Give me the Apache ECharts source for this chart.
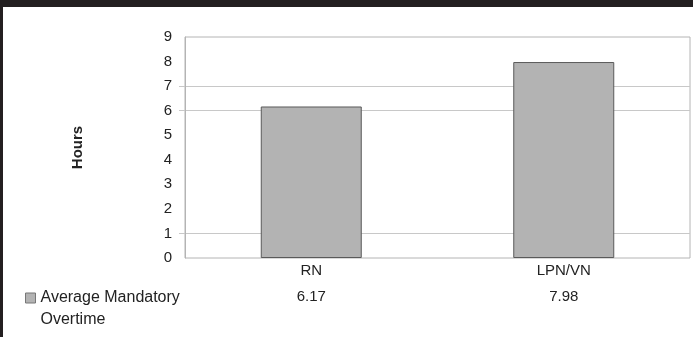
<!DOCTYPE html>
<html>
<head>
<meta charset="utf-8">
<script src="https://cdn.jsdelivr.net/npm/echarts@6/dist/echarts.min.js"></script>
<style>
  html, body { margin: 0; padding: 0; background: #fff; }
  #chart { width: 693px; height: 337px; }
</style>
</head>
<body>
<div id="chart"></div>
<script>
// Nurse categories along the x axis
const categories = ['RN', 'LPN/VN'];
// Average mandatory overtime, in hours
const overtimeHours = [6.17, 7.98];
// Series / legend label
const seriesName = 'Average Mandatory\nOvertime';
// Horizontal guide lines that are drawn on the value axis
const guideValues = [1, 6, 7];

const FONT = '"Liberation Sans", Arial, sans-serif';
const TEXT = '#222';
const LINE_H = 22;

const chart = echarts.init(document.getElementById('chart'), null, { renderer: 'canvas' });

chart.setOption({
  animation: false,
  backgroundColor: '#fff',
  textStyle: { fontFamily: FONT },
  graphic: [
    // dark frame along the top and left edges
    { type: 'rect', left: 0, top: 0, shape: { width: 693, height: 7 }, style: { fill: '#231f20' }, silent: true },
    { type: 'rect', left: 0, top: 0, shape: { width: 3, height: 337 }, style: { fill: '#231f20' }, silent: true }
  ],
  grid: {
    left: 185, right: 3, top: 37, bottom: 79,
    show: true, borderColor: '#b4b4b4', borderWidth: 1, backgroundColor: 'transparent'
  },
  legend: {
    left: 25,
    top: 265,
    padding: 0,
    itemWidth: 10,
    itemHeight: 10,
    itemGap: 4,
    icon: 'rect',
    // leading blank line keeps the swatch level with the first text line
    formatter: (name) => '\n' + name,
    textStyle: { fontFamily: FONT, fontSize: 16, color: TEXT, lineHeight: LINE_H },
    itemStyle: { color: '#b3b3b3', borderColor: '#777', borderWidth: 1 },
    data: [seriesName]
  },
  xAxis: [
    {
      type: 'category',
      data: categories,
      position: 'bottom',
      axisLine: { show: false },
      axisTick: { show: false },
      splitLine: { show: false },
      axisLabel: { fontFamily: FONT, fontSize: 15, color: TEXT, margin: 5 }
    },
    {
      // value row beneath the category names
      type: 'category',
      data: categories,
      position: 'bottom',
      offset: 26,
      axisLine: { show: false },
      axisTick: { show: false },
      splitLine: { show: false },
      axisLabel: {
        fontFamily: FONT, fontSize: 15, color: TEXT, margin: 5,
        formatter: (v, i) => overtimeHours[i].toFixed(2)
      }
    }
  ],
  yAxis: {
    type: 'value',
    min: 0,
    max: 9,
    interval: 1,
    name: 'Hours',
    nameLocation: 'middle',
    nameRotate: 90,
    nameGap: 100,
    nameTextStyle: { fontFamily: FONT, fontSize: 15, fontWeight: 'bold', color: TEXT },
    axisLine: { show: true, lineStyle: { color: '#b4b4b4', width: 1 } },
    axisTick: { show: true, length: 6, customValues: guideValues, lineStyle: { color: '#c8c8c8' } },
    splitLine: { show: true, lineStyle: { color: '#c8c8c8', width: 1 } },
    axisLabel: { fontFamily: FONT, fontSize: 15, color: TEXT, margin: 13 }
  },
  series: [
    {
      name: seriesName,
      type: 'bar',
      data: overtimeHours,
      barWidth: '40%',
      itemStyle: { color: '#b3b3b3', borderColor: '#5a5a5a', borderWidth: 1 },
      emphasis: { disabled: true }
    }
  ]
});
</script>
</body>
</html>
